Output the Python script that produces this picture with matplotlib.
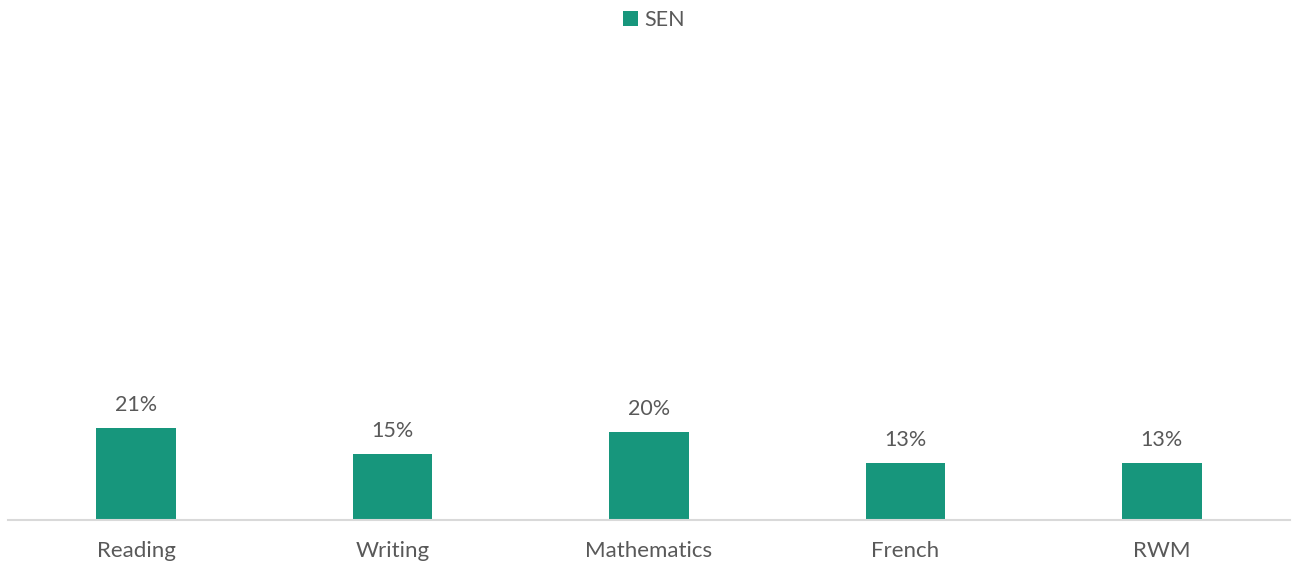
import matplotlib.pyplot as plt
import matplotlib
from matplotlib.patches import Patch

matplotlib.rcParams['font.family'] = ['Lato', 'DejaVu Sans']

categories = ['Reading', 'Writing', 'Mathematics', 'French', 'RWM']
sen = [0.21, 0.15, 0.20, 0.13, 0.13]
labels = ['21%', '15%', '20%', '13%', '13%']

bar_color = '#17967C'
text_color = '#595959'

fig = plt.figure(figsize=(12.93, 5.63), dpi=100)
ax = fig.add_axes([8 / 1293, 43 / 563, 1282 / 1293, 438 / 563])

x = range(len(categories))
ax.bar(x, sen, width=0.31, color=bar_color, zorder=2)

for i in x:
    ax.text(i, sen[i] + 0.03, labels[i], ha='center', va='bottom',
            fontsize=15.5, color=text_color)

ax.set_xlim(-0.5, len(categories) - 0.5)
ax.set_ylim(0, 1)
ax.set_xticks(list(x))
ax.set_xticklabels(categories, fontsize=16, color=text_color)
ax.tick_params(axis='x', length=0, pad=15)
ax.set_yticks([])
for s in ['top', 'right', 'left']:
    ax.spines[s].set_visible(False)
ax.spines['bottom'].set_color('#D9D9D9')
ax.spines['bottom'].set_linewidth(1.5)

handles = [Patch(facecolor=bar_color, label='SEN')]
leg = fig.legend(handles=handles, loc='center', bbox_to_anchor=(654 / 1293, 1 - 20 / 563),
                 frameon=False, fontsize=15.5, handlelength=0.7, handleheight=0.7,
                 handletextpad=0.3)
for t in leg.get_texts():
    t.set_color(text_color)

plt.savefig('out.png', dpi=100)
